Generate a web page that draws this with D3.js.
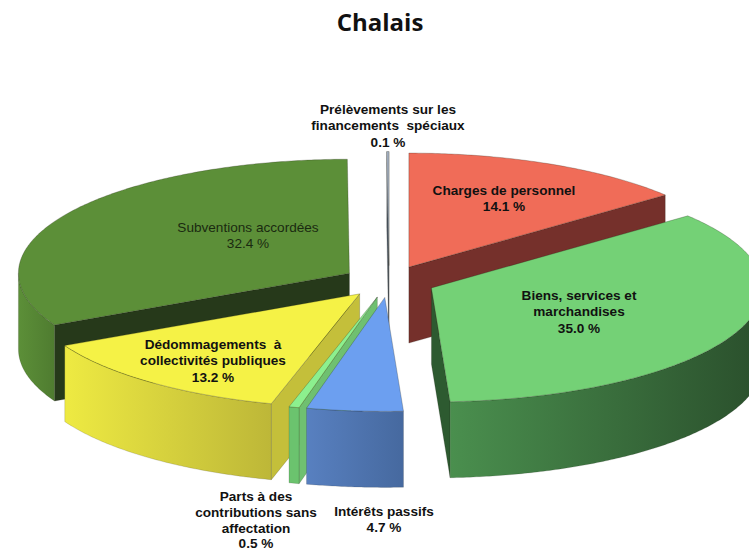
<!DOCTYPE html>
<html><head><meta charset="utf-8">
<style>html,body{margin:0;padding:0;background:#fff;overflow:hidden}svg{display:block}</style>
<script src="https://cdn.jsdelivr.net/npm/d3@7"></script></head>
<body><svg id="c" width="749" height="550"></svg>
<script>
const categories = ["Charges de personnel","Biens, services et marchandises","Intérêts passifs","Parts à des contributions sans affectation","Dédommagements à collectivités publiques","Subventions accordées","Prélèvements sur les financements spéciaux"];
const values = [14.1,35.0,4.7,0.5,13.2,32.4,0.1];
const percentLabels = ["14.1 %","35.0 %","4.7 %","0.5 %","13.2 %","32.4 %","0.1 %"];
const labelLines = [["Charges de personnel"],["Biens, services et","marchandises"],["Intérêts passifs"],["Parts à des","contributions sans","affectation"],["Dédommagements  à","collectivités publiques"],["Subventions accordées"],["Prélèvements sur les","financements  spéciaux"]];
const topColors = ["#f06c58","#74d176","#6c9ff0","#8cf08e","#f5f246","#5c8f38","#aab8cc"];
const radialColors = ["#75302b","#2d5a30","#46699f","#6fc070","#c4bf3a","#26391a","#55606e"];
const wallFrom = ["#75302b","#4a8f4e","#5880c0","#6bc36e","#eeea42","#5c8f38","#55606e"];
const wallTo = ["#75302b","#2a4f2c","#46699f","#6bc36e","#bdb738","#4f7c30","#55606e"];
const title = "Chalais";

const W=749,H=550, cx=389, cy=281.5, rx=331, ry=114, depth=76, explode=0.14;
const svg=d3.select("#c");
const defs=svg.append("defs");
const sx=d3.scaleLinear().domain([-1,1]).range([-rx,rx]);
const sy=d3.scaleLinear().domain([-1,1]).range([ry,-ry]);
const arcs=d3.pie().value(d=>d).sort(null).startAngle(0).endAngle(2*Math.PI)(values);
const line=d3.line();
function pt(a,r,ox,oy,dz){return [ox+sx(r*Math.sin(a)),oy+sy(r*Math.cos(a))+(dz||0)];}
function angles(a0,a1){const n=Math.max(2,Math.ceil((a1-a0)/0.01));return d3.range(n+1).map(i=>a0+(a1-a0)*i/n);}
const slices=arcs.map((d,i)=>{const m=(d.startAngle+d.endAngle)/2;return {...d,i,ox:cx+sx(explode*Math.sin(m)),oy:cy+sy(explode*Math.cos(m))};});
const order=[5,0,6,1,4,3,2];
const edge="rgba(30,30,20,0.5)";
order.forEach(i=>{
  const s=slices[i],g=svg.append("g"),o=[s.ox,s.oy];
  const faces=[];
  if(Math.sin(s.startAngle)<-1e-6) faces.push(s.startAngle);
  if(Math.sin(s.endAngle)>1e-6) faces.push(s.endAngle);
  if(i===6) faces.push(s.endAngle);
  faces.forEach(a=>{
    const p=pt(a,1,s.ox,s.oy);
    g.append("path").attr("d",line([o,p,[p[0],p[1]+depth],[o[0],o[1]+depth]])+"Z")
      .attr("fill",radialColors[i]).attr("stroke",edge).attr("stroke-width",0.4);
  });
  const a0=Math.max(s.startAngle,Math.PI/2),a1=Math.min(s.endAngle,3*Math.PI/2);
  if(a1>a0){
    const as=angles(a0,a1);
    const top=as.map(a=>pt(a,1,s.ox,s.oy)),bot=as.map(a=>pt(a,1,s.ox,s.oy,depth)).reverse();
    const xs=top.map(p=>p[0]);
    const id="w"+i;
    const lg=defs.append("linearGradient").attr("id",id).attr("gradientUnits","userSpaceOnUse")
      .attr("x1",d3.min(xs)).attr("x2",d3.max(xs)).attr("y1",0).attr("y2",0);
    lg.append("stop").attr("offset",0).attr("stop-color",wallFrom[i]);
    lg.append("stop").attr("offset",1).attr("stop-color",wallTo[i]);
    g.append("path").attr("d",line(top.concat(bot))+"Z").attr("fill",`url(#${id})`).attr("stroke",edge).attr("stroke-width",0.3);
  }
  const rim=angles(s.startAngle,s.endAngle).map(a=>pt(a,1,s.ox,s.oy));
  g.append("path").attr("d",line([o].concat(rim))+"Z").attr("fill",topColors[i]).attr("stroke",edge).attr("stroke-width",0.5);
});
svg.append("text").text(title).attr("x",380).attr("y",31).attr("text-anchor","middle")
  .attr("font-family","'Open Sans',sans-serif").attr("font-weight",700).attr("font-size",24).attr("fill","#111");
// label anchors: category index, centre x, first baseline
const labelAnchors=[[0,504,195],[1,579,300],[2,384,516],[3,256,501],[4,213,349],[5,248,232],[6,388,114]];
labelAnchors.forEach(([i,x,y])=>{
  const t=svg.append("text").attr("text-anchor","middle").attr("font-family","'Liberation Sans',Arial,sans-serif")
    .attr("font-size",13.6).attr("font-weight",i===5?400:700).attr("fill",i===5?"#1a2a10":"#111");
  labelLines[i].concat(percentLabels[i]).forEach((l,k)=>{
    t.append("tspan").attr("x",x).attr("y",y+k*(i===3?15.8:16.3)).style("white-space","pre").text(l);
  });
});
</script></body></html>
